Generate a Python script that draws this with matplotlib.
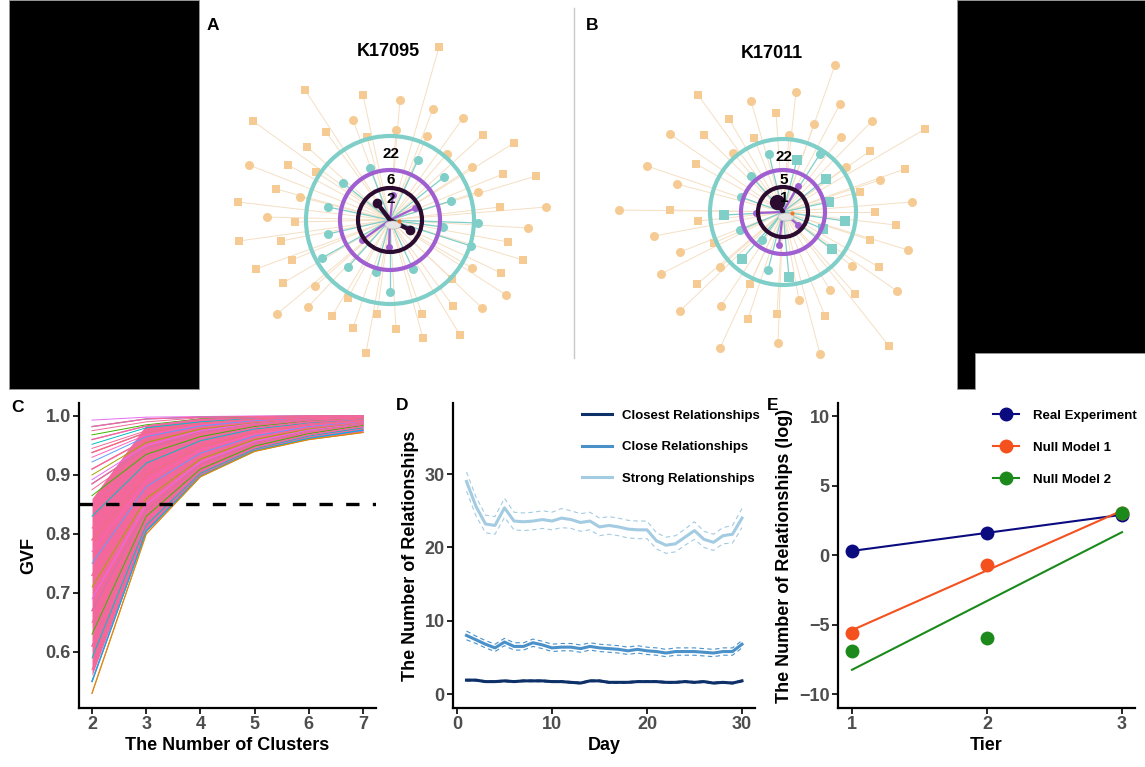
import numpy as np
import matplotlib
matplotlib.use('Agg')
import matplotlib.pyplot as plt
from matplotlib.patches import Circle, Rectangle, Polygon, Ellipse

plt.rcParams['font.family'] = ['Liberation Sans', 'DejaVu Sans']
plt.rcParams['font.weight'] = 'bold'

# ---------------- data ----------------
# panel A / B networks: node offsets (px) from the ego in the middle
a_out_sq = [(49,-173),(-85,-130),(-27,-125),(-137,-99),(93,-85),(-64,-88),(124,-77),(-83,-73),
            (-23,-83),(-102,-55),(-74,-48),(113,-46),(146,-44),(-114,-31),(-152,-18),(110,-13),
            (-95,2),(-151,21),(-109,21),(118,22),(-98,40),(133,40),(-134,49),(111,53),(-107,63),
            (62,59),(-42,78),(63,86),(-58,96),(-13,94),(32,94),(-37,108),(6,109),(33,118),(70,115),(-24,133)]
a_out_ci = [(10,-120),(43,-111),(-37,-100),(73,-102),(6,-90),(37,-84),(57,-66),(-141,-55),(82,-53),
            (-90,-23),(88,-28),(-123,-3),(156,-13),(138,8),(82,48),(-75,66),(116,75),(-82,87),(-113,94),(92,88)]
a_teal_ci = [(28,-60),(-20,-52),(54,-43),(-47,-37),(61,-19),(-62,-13),(88,3),(-62,14),(81,26),
             (-68,38),(-42,47),(-14,52),(23,49),(0,72),(53,7)]
a_teal_sq = []
a_purple = [(3,-25),(25,-12),(-28,20),(-1,27)]
a_dark = [(-13,-17),(20,10)]
a_rings = [84, 50, 32]
a_counts = ['22', '6', '2']

b_out_sq = [(-85,-117),(-54,-93),(-7,-99),(-79,-77),(-29,-74),(-87,-48),(87,-61),(77,-20),(122,-43),
            (142,-83),(-113,-2),(-85,9),(92,0),(113,13),(87,28),(-86,72),(96,55),(-33,72),(72,82),
            (-6,102),(42,104),(-35,107),(106,134),(-69,31)]
b_out_ci = [(52,-147),(13,-120),(-32,-111),(57,-108),(-113,-78),(31,-88),(89,-91),(58,-75),(6,-77),
            (-136,-46),(-50,-59),(63,-45),(97,-32),(-106,-28),(129,-10),(-164,-2),(-129,24),(-103,40),
            (125,38),(-122,62),(-63,55),(69,54),(47,78),(16,88),(114,79),(-103,99),(-62,94),(-5,131),
            (-63,136),(37,142)]
b_teal_sq = [(14,-52),(43,-33),(46,-10),(-59,3),(62,9),(-41,47),(49,37),(6,65),(40,17)]
b_teal_ci = [(-14,-58),(37,-58),(-32,-36),(-42,-15),(-43,18),(-15,58),(-21,28)]
b_purple = [(15,-26),(-27,1),(-4,33),(15,13)]
b_dark = [(-6,-10)]
b_rings = [73, 42, 25]
b_counts = ['22', '5', '1']

# panel C: GVF curves for k = 2..7
clusters = [2, 3, 4, 5, 6, 7]
gvf_curves = [
    [0.993,0.998,0.999,1.0,1.0,1.0], [0.982,0.995,0.998,0.999,1.0,1.0],
    [0.975,0.990,0.997,0.999,1.0,1.0], [0.968,0.985,0.995,0.998,0.999,1.0],
    [0.960,0.983,0.994,0.997,0.999,1.0], [0.952,0.980,0.990,0.996,0.998,0.999],
    [0.945,0.975,0.988,0.995,0.998,0.999], [0.938,0.972,0.987,0.994,0.997,0.999],
    [0.930,0.968,0.985,0.993,0.997,0.998], [0.922,0.965,0.983,0.992,0.996,0.998],
    [0.910,0.960,0.980,0.990,0.995,0.998], [0.900,0.955,0.978,0.989,0.995,0.997],
    [0.892,0.950,0.975,0.987,0.994,0.997], [0.885,0.945,0.972,0.986,0.993,0.997],
    [0.875,0.940,0.970,0.985,0.992,0.996], [0.865,0.935,0.965,0.982,0.991,0.996],
    [0.850,0.930,0.962,0.980,0.990,0.995], [0.830,0.920,0.958,0.978,0.988,0.994],
    [0.810,0.910,0.952,0.975,0.987,0.993], [0.790,0.900,0.948,0.972,0.985,0.992],
    [0.770,0.890,0.942,0.969,0.983,0.991], [0.750,0.880,0.937,0.966,0.982,0.990],
    [0.730,0.870,0.932,0.963,0.980,0.989], [0.710,0.860,0.927,0.960,0.978,0.988],
    [0.690,0.850,0.922,0.957,0.976,0.987], [0.670,0.840,0.918,0.954,0.974,0.986],
    [0.650,0.835,0.914,0.951,0.972,0.985], [0.630,0.830,0.910,0.949,0.970,0.984],
    [0.610,0.820,0.906,0.946,0.968,0.982], [0.590,0.815,0.903,0.944,0.966,0.980],
    [0.570,0.810,0.900,0.942,0.964,0.978], [0.550,0.805,0.898,0.941,0.962,0.976],
    [0.530,0.800,0.897,0.940,0.960,0.972]]
gvf_dense_low = [0.56, 0.805, 0.899, 0.941, 0.961, 0.973]
gvf_dense_high = [0.86, 0.985, 0.997, 1.0, 1.0, 1.0]
gvf_cut = 0.85

# panel D: daily number of relationships
days = list(range(1, 31))
strong = [29.0,25.6,23.2,23.0,25.4,23.6,23.5,23.6,23.8,23.6,24.0,23.8,23.4,23.6,22.8,
          23.0,22.8,22.5,22.4,22.4,20.9,20.3,20.5,21.4,22.3,21.1,20.7,21.6,21.8,24.0]
strong_ci = [1.3,1.3,1.2,1.2,1.3,1.2,1.2,1.2,1.2,1.2,1.3,1.2,1.2,1.2,1.2,
             1.2,1.2,1.2,1.2,1.2,1.1,1.1,1.1,1.1,1.2,1.1,1.1,1.1,1.2,1.3]
close = [8.0,7.4,6.8,6.3,7.1,6.5,6.5,7.0,6.7,6.3,6.4,6.4,6.2,6.5,6.3,
         6.2,6.1,5.9,6.1,5.9,5.8,5.6,5.8,5.8,5.8,5.7,5.6,5.8,5.8,6.8]
close_ci = [0.6,0.5,0.5,0.5,0.5,0.5,0.5,0.5,0.5,0.5,0.5,0.5,0.5,0.5,0.5,
            0.5,0.5,0.5,0.5,0.5,0.5,0.5,0.5,0.5,0.5,0.5,0.5,0.5,0.5,0.5]
closest = [1.9,1.9,1.7,1.7,1.8,1.7,1.8,1.8,1.8,1.7,1.7,1.6,1.5,1.8,1.8,
           1.6,1.6,1.6,1.7,1.7,1.7,1.6,1.6,1.7,1.6,1.7,1.5,1.6,1.5,1.8]
closest_ci = [0.1] * 30

# panel E: log number of relationships per tier
tiers = [1, 2, 3]
real_exp = [0.3, 1.6, 2.9]
null1 = [-5.6, -0.7, 3.0]
null2 = [-6.9, -6.0, 3.0]

# ---------------- figure ----------------
fig = plt.figure(figsize=(11.45, 7.67), dpi=100)
bg = fig.add_axes([0, 0, 1, 1])
bg.set_xlim(0, 1145)
bg.set_ylim(767, 0)
bg.axis('off')

bg.add_patch(Rectangle((9, 0), 190, 389, facecolor='black', edgecolor='#999999', lw=0.6))
bg.add_patch(Polygon([(957, 0), (1145, 0), (1145, 353), (975, 353), (975, 389), (957, 389)],
                     closed=True, facecolor='black', edgecolor='#999999', lw=0.6))
bg.plot([574, 574], [8, 358], color='#c8c8c8', lw=1)

ORANGE = '#f6cb93'
ORANGE_E = '#f5dfc3'
TEAL = '#7fcfc8'
PURPLE = '#a05fd0'
DARK = '#2c0b30'


def network(cx, cy, out_sq, out_ci, teal_ci, teal_sq, purple, dark, rings, counts):
    for (dx, dy) in out_sq + out_ci:
        bg.plot([cx, cx + dx], [cy, cy + dy], color=ORANGE_E, lw=0.7, zorder=1)
    for (dx, dy) in teal_ci + teal_sq:
        bg.plot([cx, cx + dx], [cy, cy + dy], color=TEAL, lw=0.9, zorder=2)
    for (dx, dy) in purple:
        bg.plot([cx, cx + dx], [cy, cy + dy], color=PURPLE, lw=1.6, zorder=3)
    for (dx, dy) in dark:
        bg.plot([cx, cx + dx], [cy, cy + dy], color=DARK, lw=3.2, zorder=4,
                solid_capstyle='round')
    if out_sq:
        bg.plot([cx + d[0] for d in out_sq], [cy + d[1] for d in out_sq], 's',
                color=ORANGE, ms=6, mew=0, zorder=5)
    if out_ci:
        bg.plot([cx + d[0] for d in out_ci], [cy + d[1] for d in out_ci], 'o',
                color=ORANGE, ms=6.5, mew=0, zorder=5)
    if teal_ci:
        bg.plot([cx + d[0] for d in teal_ci], [cy + d[1] for d in teal_ci], 'o',
                color=TEAL, ms=6.5, mew=0, zorder=5)
    if teal_sq:
        bg.plot([cx + d[0] for d in teal_sq], [cy + d[1] for d in teal_sq], 's',
                color=TEAL, ms=6.5, mew=0, zorder=5)
    bg.plot([cx + d[0] for d in purple], [cy + d[1] for d in purple], 'o',
            color=PURPLE, ms=5, mew=0, zorder=6)
    bg.plot([cx + d[0] for d in dark], [cy + d[1] for d in dark], 'o',
            color=DARK, ms=7 if len(dark) > 1 else 11, mew=0, zorder=6)
    for r, c in zip(rings, [TEAL, PURPLE, DARK]):
        bg.add_patch(Circle((cx, cy), r, fill=False, edgecolor=c, lw=3, zorder=7))
    bg.add_patch(Ellipse((cx + 3, cy + 5), 16, 8, facecolor='#e4e4e4', edgecolor='#bbbbbb',
                         lw=0.5, zorder=8))
    bg.plot([cx + 9], [cy + 1], 'o', color='#ef7a2a', ms=3, mew=0, zorder=9)
    for r, t, off in zip(rings, counts, [18, 10, 11]):
        bg.text(cx + 1, cy - r + off, t, ha='center', va='center',
                fontsize=11, fontweight='bold', color='black', zorder=10)


network(390, 220, a_out_sq, a_out_ci, a_teal_ci, a_teal_sq, a_purple, a_dark, a_rings, a_counts)
network(783, 212, b_out_sq, b_out_ci, b_teal_ci, b_teal_sq, b_purple, b_dark, b_rings, b_counts)

bg.text(388, 52, 'K17095', ha='center', va='center', fontsize=13, fontweight='bold')
bg.text(772, 53, 'K17011', ha='center', va='center', fontsize=13, fontweight='bold')
for lab, x, y in [('A', 213, 25), ('B', 592, 25), ('C', 18, 407), ('D', 402, 406), ('E', 773, 406)]:
    bg.text(x, y, lab, ha='center', va='center', fontsize=12.5, fontweight='bold')

W, H = 1145.0, 767.0


def add_ax(x0, x1, y0, y1):
    ax = fig.add_axes([x0 / W, 1 - y1 / H, (x1 - x0) / W, (y1 - y0) / H])
    for s in ['top', 'right']:
        ax.spines[s].set_visible(False)
    for s in ['left', 'bottom']:
        ax.spines[s].set_linewidth(1.6)
    ax.tick_params(direction='out', length=4, width=1.2, labelsize=13,
                   labelcolor='#4d4d4d', pad=2)
    for t in ax.get_xticklabels() + ax.get_yticklabels():
        t.set_fontweight('bold')
    ax.patch.set_alpha(0)
    return ax


# ---- C ----
axc = add_ax(79, 376, 403, 708)
PINK = '#f3679a'
hue = ['#e76bf3', '#00b0f6', PINK, '#39b600', '#c77cff', '#00bfc4', PINK, '#d89000',
       '#ff62bc', '#619cff', PINK, '#a3a500']
axc.fill_between(clusters, gvf_dense_low, gvf_dense_high, color=PINK, lw=0, zorder=1)
for i, cv in enumerate(gvf_curves):
    axc.plot(clusters, cv, color=hue[i % len(hue)], lw=0.7, zorder=2)
for cv in gvf_curves[1::3]:
    axc.plot(clusters, cv, color=PINK, lw=1.0, zorder=3)
axc.plot(clusters, gvf_curves[-2], color='#00b0f6', lw=0.9, zorder=4)
axc.plot(clusters, gvf_curves[-1], color='#d89000', lw=0.9, zorder=4)
axc.axhline(gvf_cut, color='black', lw=2.4, dashes=(4, 4), zorder=5)
axc.set_xlim(1.76, 7.24)
axc.set_ylim(0.505, 1.022)
axc.set_xticks(clusters)
axc.set_yticks([0.6, 0.7, 0.8, 0.9, 1.0])
axc.set_yticklabels(['0.6', '0.7', '0.8', '0.9', '1.0'])
axc.set_xlabel('The Number of Clusters', fontsize=13, fontweight='bold', labelpad=3)
axc.set_ylabel('GVF', fontsize=13, fontweight='bold', labelpad=6)

# ---- D ----
axd = add_ax(453, 755, 403, 708)
for mean, ci, col, lab in [(closest, closest_ci, '#0d3069', 'Closest Relationships'),
                           (close, close_ci, '#4a91c9', 'Close Relationships'),
                           (strong, strong_ci, '#a3cbe2', 'Strong Relationships')]:
    m = np.array(mean)
    c = np.array(ci)
    axd.plot(days, m, color=col, lw=2.2, label=lab)
    axd.plot(days, m + c, color=col, lw=0.8, ls=(0, (4, 3)))
    axd.plot(days, m - c, color=col, lw=0.8, ls=(0, (4, 3)))
axd.set_xlim(-0.42, 31.37)
axd.set_ylim(-1.9, 39.7)
axd.set_xticks([0, 10, 20, 30])
axd.set_yticks([0, 10, 20, 30])
axd.set_xlabel('Day', fontsize=13, fontweight='bold', labelpad=3)
axd.set_ylabel('The Number of Relationships', fontsize=13, fontweight='bold', labelpad=4)
axd.legend(loc='upper left', bbox_to_anchor=(0.405, 1.0), frameon=False, borderpad=0,
           handlelength=2.3, handletextpad=0.75, labelspacing=1.45,
           prop={'size': 9.5, 'weight': 'bold'})

# ---- E ----
axe = add_ax(838, 1135, 403, 708)
xs = np.array([1, 3])
for ys, col, lab in [(real_exp, '#0b0b80', 'Real Experiment'),
                     (null1, '#f4511e', 'Null Model 1'),
                     (null2, '#1b8a1b', 'Null Model 2')]:
    k, b = np.polyfit(tiers, ys, 1)
    axe.plot(tiers, ys, 'o', color=col, ms=10, mew=0, zorder=3)
    axe.plot(xs, k * xs + b, color=col, lw=1.5, zorder=2)
    axe.plot([], [], '-o', color=col, ms=9, lw=1.5, label=lab)
axe.set_xlim(0.896, 3.096)
axe.set_ylim(-11.0, 10.94)
axe.set_xticks(tiers)
axe.set_yticks([-10, -5, 0, 5, 10])
axe.set_xlabel('Tier', fontsize=13, fontweight='bold', labelpad=3)
axe.set_ylabel('The Number of Relationships (log)', fontsize=13, fontweight='bold', labelpad=4)
axe.legend(loc='upper left', bbox_to_anchor=(0.5, 1.0), frameon=False, borderpad=0,
           handlelength=2.0, handletextpad=1.0, labelspacing=1.5,
           prop={'size': 9.5, 'weight': 'bold'})

fig.savefig('out.png', dpi=100)
